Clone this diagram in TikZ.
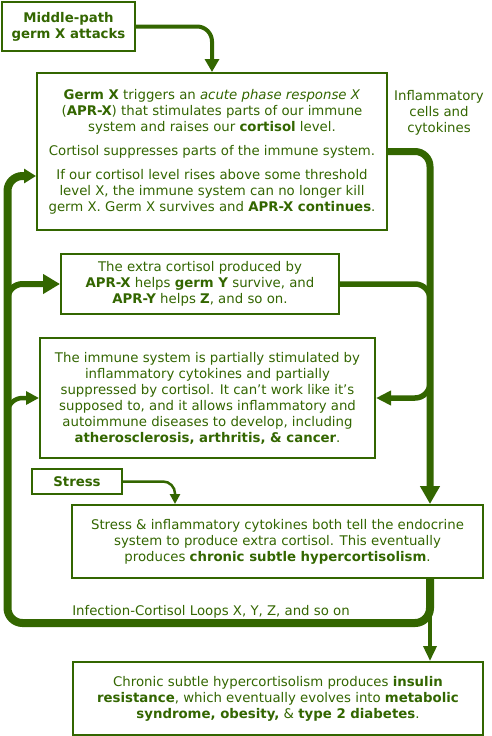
\documentclass[tikz,border=0pt]{standalone}
\usepackage{fontspec}
\setmainfont{DejaVu Sans}
\usetikzlibrary{arrows.meta,calc}
\definecolor{germgreen}{RGB}{51,102,0}

\begin{document}
\begin{tikzpicture}[x=1pt,y=-1pt,font=\fontsize{13.3}{16}\selectfont,text=germgreen,
	box/.style={draw=germgreen,fill=white,line width=2pt,align=center,inner sep=0pt},
	flow/.style={draw=germgreen,rounded corners=15pt}]
	\useasboundingbox (0,0) rectangle (491,736);
	% boxes
	\node[box,minimum width=133pt,minimum height=49pt] (mid) at (68.5,26.5) {\textbf{Middle-path}\\\textbf{germ X attacks}};
	\node[box,minimum width=350pt,minimum height=157pt] (germ) at (212,151.5) {\textbf{Germ X} triggers an \textit{acute phase response X}\\(\textbf{APR-X}) that stimulates parts of our immune\\system and raises our \textbf{cortisol} level.\\[8pt]Cortisol suppresses parts of the immune system.\\[8pt]If our cortisol level rises above some threshold\\level X, the immune system can no longer kill\\germ X. Germ X survives and \textbf{APR-X continues}.};
	\node[box,minimum width=278pt,minimum height=60pt] (extra) at (200,284) {The extra cortisol produced by\\\textbf{APR-X} helps \textbf{germ Y} survive, and\\\textbf{APR-Y} helps \textbf{Z}, and so on.};
	\node[box,minimum width=335pt,minimum height=120pt] (immune) at (207.5,398) {The immune system is partially stimulated by\\inflammatory cytokines and partially\\suppressed by cortisol. It can’t work like it’s\\supposed to, and it allows inflammatory and\\autoimmune diseases to develop, including\\\textbf{atherosclerosis, arthritis, \& cancer}.};
	\node[box,minimum width=90pt,minimum height=25pt] (stress) at (77,481.5) {\textbf{Stress}};
	\node[box,minimum width=411pt,minimum height=73pt] (endo) at (277.5,541.5) {Stress \& inflammatory cytokines both tell the endocrine\\system to produce extra cortisol. This eventually\\produces \textbf{chronic subtle hypercortisolism}.};
	\node[box,minimum width=410pt,minimum height=73pt] (insulin) at (278,698.5) {Chronic subtle hypercortisolism produces \textbf{insulin}\\\textbf{resistance}, which eventually evolves into \textbf{metabolic}\\\textbf{syndrome, obesity,} \& \textbf{type 2 diabetes}.};
	% labels
	\node[align=center] (inflam) at (439,113) {Inflammatory\\cells and\\cytokines};
	\node (loops) at (211,612) {Infection-Cortisol Loops X, Y, Z, and so on};
	\coordinate (rail) at (430,623);
	\coordinate (lrail) at (7.5,623);
	\coordinate (germin) at ([yshift=-24.5pt]germ.west);
	\coordinate (stressin) at ([xshift=-102.5pt]endo.north);
	% arrows
	\draw[flow,line width=4pt,-{Triangle[length=13pt,width=14pt]}] (mid.east) -| (germ.north);
	\draw[flow,line width=7pt,-{Triangle[length=18pt,width=19pt]}] (germ.east) -| (endo.north -| rail);
	\draw[flow,line width=5.5pt,-{Triangle[length=15pt,width=14pt]}] (extra.east) -- (extra.east -| rail) -- (immune.east -| rail) -- (immune.east);
	\draw[flow,line width=8pt,-{Triangle[length=12pt,width=14pt]}] (endo.south -| rail) -- (rail) -- (lrail) -- (lrail |- germin) -- (germin);
	\draw[flow,line width=6pt,-{Triangle[length=17pt,width=19pt]}] ($(lrail |- extra.west)+(0,25)$) -- (lrail |- extra.west) -- (extra.west);
	\draw[flow,line width=4.5pt,-{Triangle[length=13pt,width=13pt]}] ($(lrail |- immune.west)+(0,20)$) -- (lrail |- immune.west) -- (immune.west);
	\draw[flow,rounded corners=12pt,line width=2.5pt,-{Triangle[length=10pt,width=10pt]}] (stress.east) -| (stressin);
	\draw[flow,line width=3.5pt,-{Triangle[length=15pt,width=13pt]}] (endo.south -| rail) -- (insulin.north -| rail);
\end{tikzpicture}
\end{document}
